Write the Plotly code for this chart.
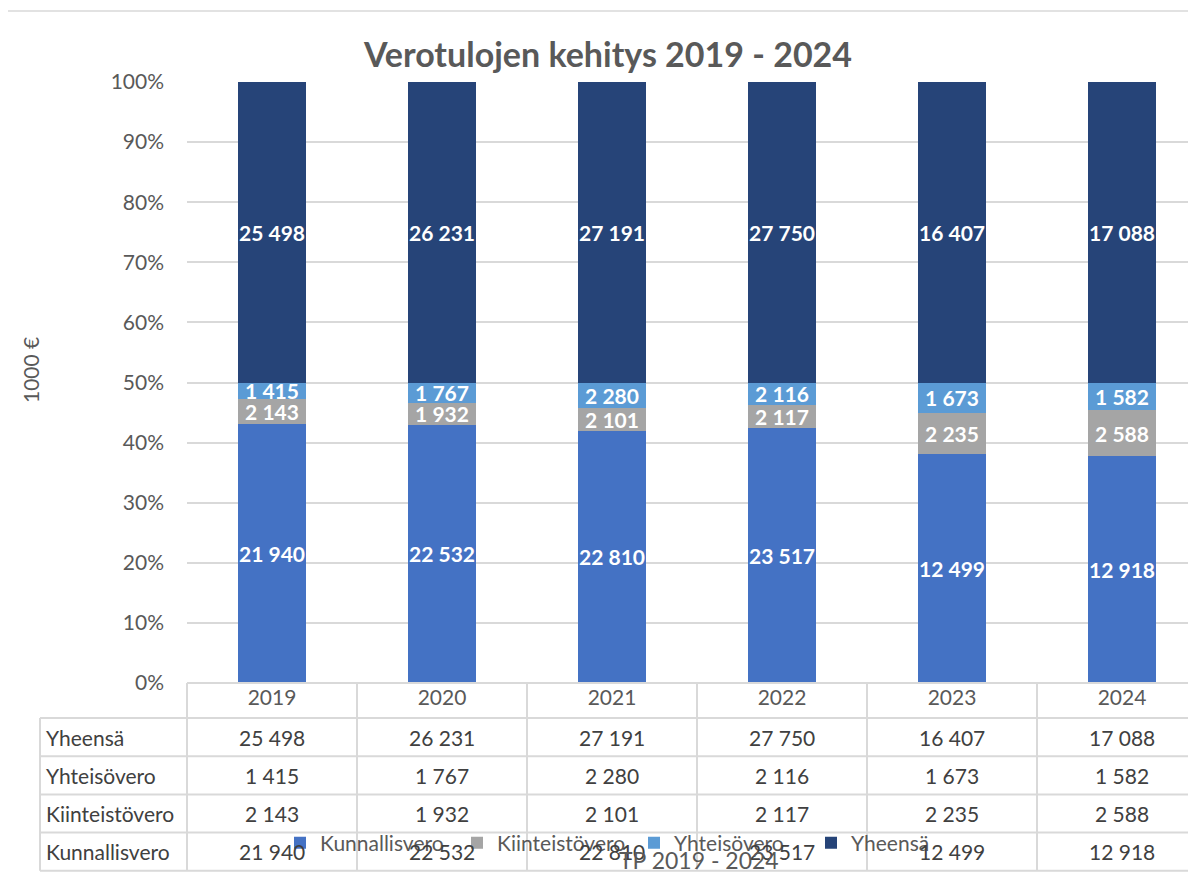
import plotly.graph_objects as go

# data (1000 €)
years = ['2019', '2020', '2021', '2022', '2023', '2024']
kunnallisvero = [21940, 22532, 22810, 23517, 12499, 12918]
kiinteistovero = [2143, 1932, 2101, 2117, 2235, 2588]
yhteisovero = [1415, 1767, 2280, 2116, 1673, 1582]
yheensa = [25498, 26231, 27191, 27750, 16407, 17088]

series = [
    ('Kunnallisvero', kunnallisvero, '#4472C4'),
    ('Kiinteistövero', kiinteistovero, '#A5A5A5'),
    ('Yhteisövero', yhteisovero, '#5B9BD5'),
    ('Yheensä', yheensa, '#264478'),
]
# table rows, top to bottom
table_rows = [('Yheensä', yheensa), ('Yhteisövero', yhteisovero),
              ('Kiinteistövero', kiinteistovero), ('Kunnallisvero', kunnallisvero)]

FONT = 'Lato'
GRAY = '#595959'
TXT = '#404040'
GRID = '#D9D9D9'


def fmt(v):
    return f'{v:,}'.replace(',', ' ')


fig = go.Figure()
for name, vals, color in series:
    fig.add_trace(go.Bar(
        x=years, y=vals, name=name,
        marker=dict(color=color, line=dict(width=0)),
        text=[fmt(v) for v in vals],
        textposition='inside', insidetextanchor='middle', textangle=0,
        textfont=dict(color='white', size=21, family=FONT, weight='bold'),
        width=0.4,
    ))

# page has an 8px body margin, so the figure is shifted by OFF
OFF = 8
W, H = 1196, 873
plot_left, plot_top, plot_bottom = 187, 82, 683   # target pixels in the screenshot
left = plot_left - OFF
top = plot_top - OFF
bottom = H - (plot_bottom - OFF)
plot_h = H - top - bottom
plot_w = W - left
cat_w = 170


def py(pix):
    # screenshot pixel y -> paper y
    return (plot_bottom - pix) / plot_h


def px(pix):
    return (pix - plot_left) / plot_w


row_h = 38.2
header_bot = 718
annotations = []
shapes = []
for r, (label, vals) in enumerate(table_rows):
    yc = py(header_bot + row_h * (r + 0.5))
    annotations.append(dict(x=px(44), y=yc, xref='paper', yref='paper', text=label,
                            showarrow=False, xanchor='left', yanchor='middle',
                            font=dict(size=21, color=TXT, family=FONT)))
    for i, v in enumerate(vals):
        annotations.append(dict(x=i, y=yc, xref='x', yref='paper', text=fmt(v),
                                showarrow=False, xanchor='center', yanchor='middle',
                                font=dict(size=21, color=TXT, family=FONT)))

# table grid
table_bot = py(header_bot + row_h * 4)
for r in range(5):
    yy = py(header_bot + row_h * r)
    shapes.append(dict(type='line', xref='paper', yref='paper', x0=px(40), x1=1.02,
                       y0=yy, y1=yy, line=dict(color=GRID, width=2)))
shapes.append(dict(type='line', xref='paper', yref='paper', x0=0, x1=1.02,
                   y0=0, y1=0, line=dict(color=GRID, width=2)))
for i in range(len(years)):
    xx = px(plot_left + cat_w * i)
    shapes.append(dict(type='line', xref='paper', yref='paper', x0=xx, x1=xx,
                       y0=0, y1=table_bot, line=dict(color=GRID, width=2)))
shapes.append(dict(type='line', xref='paper', yref='paper', x0=px(40), x1=px(40),
                   y0=py(header_bot), y1=table_bot, line=dict(color=GRID, width=2)))
# outer chart border
shapes.append(dict(type='rect', xref='paper', yref='paper', x0=px(7), x1=1.05,
                   y0=-0.5, y1=py(11), line=dict(color=GRID, width=1.5)))

annotations.append(dict(x=px(30), y=py(370), xref='paper', yref='paper', text='1000 €',
                        textangle=-90, showarrow=False, xanchor='center', yanchor='middle',
                        font=dict(size=21, color=GRAY, family=FONT)))
annotations.append(dict(x=px(699), y=py(860), xref='paper', yref='paper', text='TP 2019 - 2024',
                        showarrow=False, xanchor='center', yanchor='middle',
                        font=dict(size=23, color=GRAY, family=FONT)))

fig.update_layout(
    width=W, height=H,
    barmode='stack', barnorm='percent',
    title=dict(text='<b>Verotulojen kehitys 2019 - 2024</b>', x=px(608), xanchor='center',
               xref='paper', y=1 - (55 - OFF) / H, yanchor='middle',
               font=dict(size=34, color=GRAY, family=FONT)),
    margin=dict(l=left, r=0, t=top, b=bottom),
    plot_bgcolor='white', paper_bgcolor='white',
    font=dict(family=FONT, color=GRAY),
    xaxis=dict(type='category', range=[-0.5, -0.5 + plot_w / cat_w], showgrid=False,
               showline=False, ticks='', tickfont=dict(size=21, color=GRAY, family=FONT),
               fixedrange=True),
    yaxis=dict(range=[0, 100], dtick=10, ticksuffix='%', showgrid=True, gridcolor=GRID,
               gridwidth=1.5, zeroline=False, showline=False, ticklabelstandoff=22,
               tickfont=dict(size=21, color=GRAY, family=FONT)),
    legend=dict(orientation='h', x=px(280), y=py(843), xanchor='left', yanchor='middle',
                font=dict(size=21, color=GRAY, family=FONT), bgcolor='rgba(0,0,0,0)',
                itemwidth=30, traceorder='normal', entrywidth=132),
    uniformtext=dict(minsize=21, mode='show'),
    shapes=shapes, annotations=annotations,
)

fig.write_html('out.html')
